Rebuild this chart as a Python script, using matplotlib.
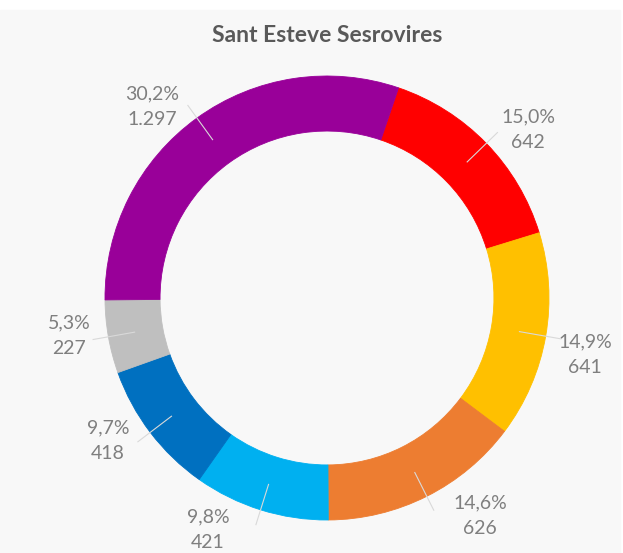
import matplotlib
matplotlib.use("Agg")
import matplotlib.pyplot as plt
import numpy as np
from matplotlib.patches import Rectangle

# ---- data (clockwise from the red slice) ----
parties = ["red", "yellow", "orange", "lightblue", "darkblue", "gray", "purple"]
votes = [642, 641, 626, 421, 418, 227, 1297]
pcts = [15.0, 14.9, 14.6, 9.8, 9.7, 5.3, 30.2]
colors = ["#ff0000", "#ffc000", "#ed7d31", "#00b0f0", "#0070c0", "#bfbfbf", "#990099"]
title = "Sant Esteve Sesrovires"

# label block centres in pixels (x, y from top)
LABEL_PX = [(528, 130), (585, 355), (480, 516), (208, 530), (108, 441), (69, 336), (152, 107)]

W, H = 623, 553
CX, CY, R = 327, 298, 222

fig = plt.figure(figsize=(W / 100, H / 100), dpi=100)
fig.patch.set_facecolor("white")
fig.patches.append(Rectangle((0, 0), 620 / W, (H - 10) / H, transform=fig.transFigure,
                             color="#f8f8f8", zorder=-5))

ax = fig.add_axes([0, 0, 1, 1])
ax.set_facecolor("none")

wedges, _ = ax.pie(votes, colors=colors, startangle=90 - 18.8, counterclock=False,
                   radius=1.0, wedgeprops=dict(width=0.248, linewidth=0.6))
for w in wedges:
    w.set_edgecolor(w.get_facecolor())

ax.set_xlim(-CX / R, (W - CX) / R)
ax.set_ylim(-(H - CY) / R, CY / R)
ax.axis("off")

for w, v, p, (lx, ly) in zip(wedges, votes, pcts, LABEL_PX):
    mid = np.deg2rad((w.theta1 + w.theta2) / 2)
    ax.plot([0.88 * np.cos(mid), 1.07 * np.cos(mid)],
            [0.88 * np.sin(mid), 1.07 * np.sin(mid)],
            color="#d9d9d9", lw=0.8, zorder=3)
    txt = f"{p:.1f}%".replace(".", ",") + "\n" + f"{v:,}".replace(",", ".")
    ax.text((lx - CX) / R, (CY - ly) / R, txt, ha="center", va="center",
            fontsize=14, color="#7f7f7f", family="Lato", linespacing=1.6)

fig.text(CX / W, 1 - 35 / H, title, ha="center", va="center",
         fontsize=16.5, fontweight="bold", color="#595959", family="Lato")

fig.savefig("out.png", dpi=100, facecolor=fig.get_facecolor())
